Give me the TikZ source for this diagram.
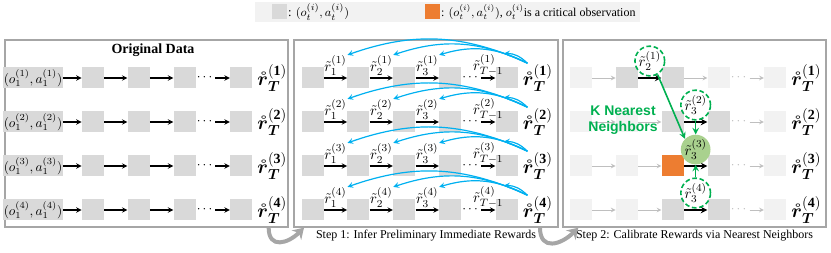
\documentclass[tikz,border=0pt]{standalone}
\usepackage{amsmath}
\usepackage{fontspec}
\setmainfont{Liberation Serif}
\newfontfamily\knnfont{Liberation Sans}
\usetikzlibrary{positioning,arrows.meta}

\definecolor{stategray}{RGB}{217,217,217}
\definecolor{fadegray}{RGB}{242,242,242}
\definecolor{fadeline}{RGB}{191,191,191}
\definecolor{framegray}{RGB}{166,166,166}
\definecolor{critorange}{RGB}{237,125,49}
\definecolor{backblue}{RGB}{0,176,240}
\definecolor{knngreen}{RGB}{0,176,80}
\definecolor{softgreen}{RGB}{169,209,142}

\newcommand{\rT}[1]{$\boldsymbol{\mathring{r}}_{\boldsymbol{T}}^{\mathbf{(#1)}}$}

\tikzset{
  panel/.style={draw=framegray, line width=1pt, inner sep=0pt, minimum height=140.25pt},
  state/.style={fill=stategray, inner sep=0pt, minimum width=16.5pt, minimum height=15.75pt},
  faded/.style={state, fill=fadegray},
  crit/.style={state, fill=critorange},
  startpair/.style={fill=stategray, inner sep=0.3pt, minimum width=37.5pt, minimum height=15.75pt, font=\fontsize{10}{11}\selectfont},
  ret/.style={inner sep=0.5pt, font=\fontsize{15}{17}\selectfont},
  ellip/.style={anchor=west, inner sep=0.5pt},
  flow/.style={->, line width=0.8pt},
  fadeflow/.style={->, line width=0.6pt, draw=fadeline},
  keyflow/.style={->, line width=1.2pt},
  rlab/.style={above=1pt, inner sep=0.3pt, font=\fontsize{11}{12}\selectfont},
  backflow/.style={->, draw=backblue, line width=0.9pt, bend right=22},
  nbr/.style={circle, draw=knngreen, dash pattern=on 3.5pt off 2pt, line width=1.2pt, minimum size=21pt, inner sep=0pt, font=\fontsize{11}{12}\selectfont},
  focus/.style={circle, fill=softgreen, minimum size=21pt, inner sep=0pt, font=\fontsize{11}{12}\selectfont},
  knn/.style={->, draw=knngreen, line width=1.2pt},
  knnlab/.style={align=center, text=knngreen, inner sep=0pt, font=\knnfont\bfseries\fontsize{10.5}{12}\selectfont},
  steptext/.style={inner sep=0pt, font=\fontsize{9}{10}\selectfont},
  steparrow/.style={draw=framegray, line width=3pt, -{Stealth[length=8pt,width=10pt]}},
}

\begin{document}
\begin{tikzpicture}[x=0.75pt, y=0.75pt, >=stealth]
\useasboundingbox (0,0) rectangle (831,253);

% legend
\node[fill=fadegray, minimum width=289pt, minimum height=15pt] (legend) at (447.5,241) {};
\node[state, minimum width=11.25pt, minimum height=11.25pt] (keyA) at (279.5,241) {};
\node[anchor=west, inner sep=0.5pt, font=\fontsize{9.5}{10}\selectfont] (keyAtxt) at (keyA.east) {: $(o_t^{(i)},a_t^{(i)})$};
\node[crit, minimum width=11.25pt, minimum height=11.25pt] (keyB) at (432.5,241) {};
\node[anchor=west, inner sep=0.5pt, font=\fontsize{9}{10}\selectfont] (keyBtxt) at (keyB.east) {: $(o_t^{(i)},a_t^{(i)})$, $o_t^{(i)}$is a critical observation};

% panels
\node[panel, minimum width=212.25pt] (orig) at (146.5,119.5) {};
\node[panel, minimum width=198pt] (infer) at (426,119.5) {};
\node[panel, minimum width=197.25pt] (calib) at (694.5,119.5) {};
\node[font=\fontsize{10.5}{12}\selectfont\bfseries] (title) at (153,203) {Original Data};
\node[steptext, below=1.5pt of infer] (cap1) {Step 1: Infer Preliminary Immediate Rewards};
\node[steptext, below=1.5pt of calib] (cap2) {Step 2: Calibrate Rewards via Nearest Neighbors};
\draw[steparrow] ([xshift=-15pt]orig.south east) to[out=-90, in=-135, looseness=1.6] ([xshift=8pt]infer.south west);
\draw[steparrow] ([xshift=-14pt]infer.south east) to[out=-90, in=-135, looseness=1.6] ([xshift=12pt]calib.south west);

% original data
\foreach \i/\y in {1/175,2/131,3/87,4/43}{
  \node[startpair] (o\i) at (33,\y) {$(o_1^{(\i)},a_1^{(\i)})$};
  \node[state, right=14pt of o\i] (a\i1) {};
  \node[state, right=17.5pt of a\i1] (a\i2) {};
  \node[state, right=17.5pt of a\i2] (a\i3) {};
  \node[state, right=25.5pt of a\i3] (a\i4) {};
  \node[ret, right=3pt of a\i4] (ra\i) {\rT{\i}};
  \node[ellip] (da\i) at (a\i3.east) {$\cdots$};
  \draw[flow] (o\i) -- (a\i1);
  \draw[flow] (a\i1) -- (a\i2);
  \draw[flow] (a\i2) -- (a\i3);
  \draw[flow] (da\i) -- (a\i4);
}

% step 1
\foreach \i/\y in {1/175,2/131,3/87,4/43}{
  \node[state] (b\i1) at (312.5,\y) {};
  \node[state, right=17.5pt of b\i1] (b\i2) {};
  \node[state, right=17.5pt of b\i2] (b\i3) {};
  \node[state, right=17.5pt of b\i3] (b\i4) {};
  \node[state, right=25.5pt of b\i4] (b\i5) {};
  \node[ret, right=3pt of b\i5] (rb\i) {\rT{\i}};
  \node[ellip] (db\i) at (b\i4.east) {$\cdots$};
  \draw[flow] (b\i1) -- node[rlab] (t\i1) {$\tilde{r}_1^{(\i)}$} (b\i2);
  \draw[flow] (b\i2) -- node[rlab] (t\i2) {$\tilde{r}_2^{(\i)}$} (b\i3);
  \draw[flow] (b\i3) -- node[rlab] (t\i3) {$\tilde{r}_3^{(\i)}$} (b\i4);
  \draw[flow] (db\i) -- node[rlab] (t\i4) {$\tilde{r}_{T-1}^{(\i)}$} (b\i5);
  \foreach \j in {1,...,4}
    \draw[backflow] (rb\i.125) to (t\i\j.north east);
}

% step 2
\foreach \i/\y/\sb/\sc/\sd/\fb/\fc in {1/175/state/state/faded/keyflow/fadeflow,
    2/131/faded/state/state/fadeflow/keyflow, 3/87/faded/crit/state/fadeflow/keyflow,
    4/43/faded/state/state/fadeflow/keyflow}{
  \node[faded] (c\i1) at (581,\y) {};
  \node[\sb, right=17.5pt of c\i1] (c\i2) {};
  \node[\sc, right=17.5pt of c\i2] (c\i3) {};
  \node[\sd, right=17.5pt of c\i3] (c\i4) {};
  \node[faded, right=25.5pt of c\i4] (c\i5) {};
  \node[ret, right=3pt of c\i5] (rc\i) {\rT{\i}};
  \node[ellip, text=fadeline] (dc\i) at (c\i4.east) {$\cdots$};
  \draw[fadeflow] (c\i1) -- (c\i2);
  \draw[\fb] (c\i2) -- (c\i3);
  \draw[\fc] (c\i3) -- (c\i4);
  \draw[fadeflow] (dc\i) -- (c\i5);
}
\path (c12) -- node[nbr, above=1pt] (k1) {$\tilde{r}_2^{(1)}$} (c13);
\path (c23) -- node[nbr, above=1pt] (k2) {$\tilde{r}_3^{(2)}$} (c24);
\path (c33) -- node[focus, above=1pt] (k3) {$\tilde{r}_3^{(3)}$} (c34);
\path (c43) -- node[nbr, above=1pt] (k4) {$\tilde{r}_3^{(4)}$} (c44);
\node[knnlab] (knn) at (623,133) {K Nearest\\Neighbors};
\draw[knn] (k1.300) -- (k3.135);
\draw[knn] (k2) -- (k3);
\draw[knn] (k4) -- (k3);
\end{tikzpicture}
\end{document}
